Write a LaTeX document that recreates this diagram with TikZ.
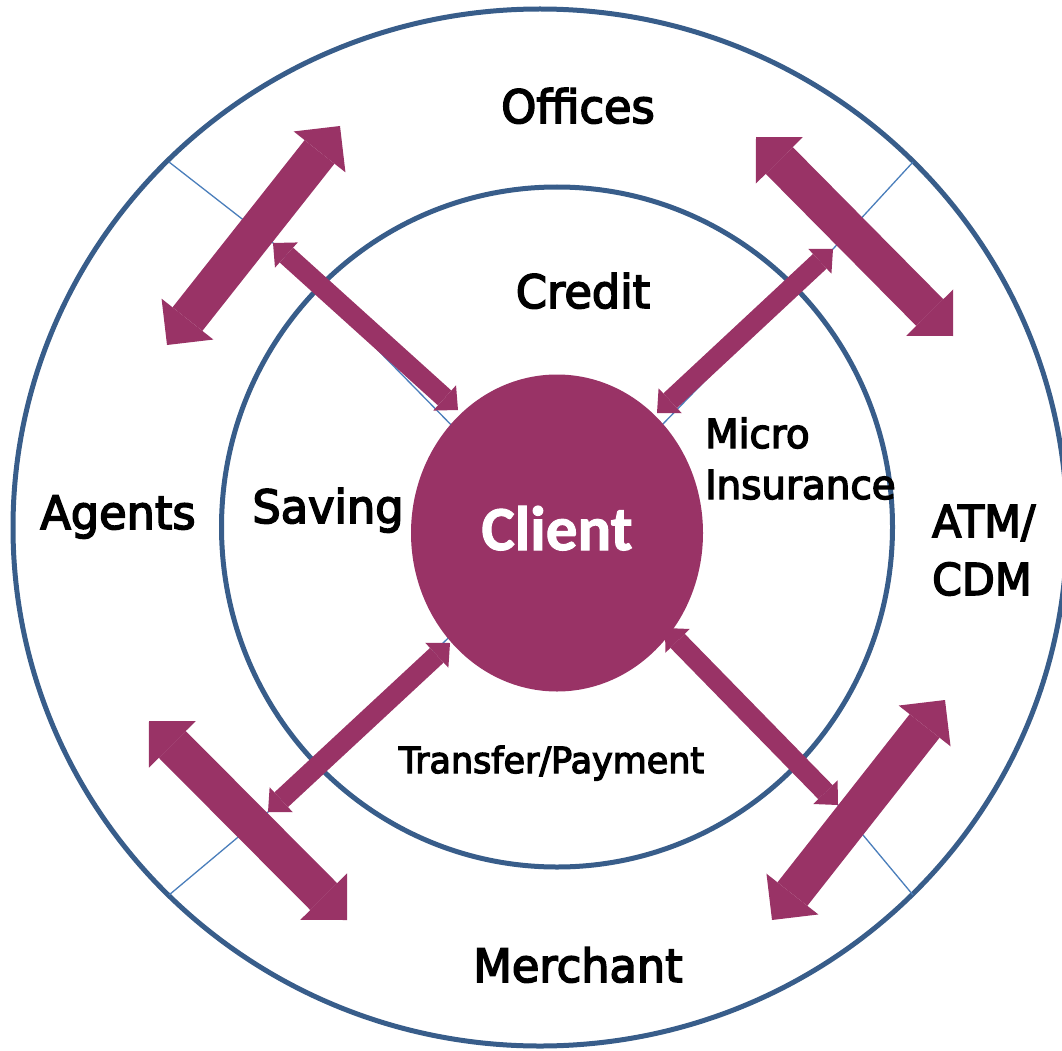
\documentclass[tikz,border=0pt]{standalone}
\usepackage{fontspec}
\setmainfont[FakeStretch=0.97,FakeBold=3.5]{DejaVu Sans}
\newfontfamily\clientfont[BoldFeatures={FakeBold=1.5}]{Carlito}
\usepackage{tikz}
\usetikzlibrary{arrows.meta,positioning,shapes.geometric,calc}
\definecolor{plum}{HTML}{993366}
\definecolor{ringblue}{HTML}{385D8A}
\definecolor{guideblue}{HTML}{4A7EBB}

\begin{document}
\begin{tikzpicture}[
    x=1pt, y=-1pt,
    ring/.style={draw=ringblue, ellipse, line width=5pt, inner sep=0pt},
    guide/.style={draw=guideblue, line width=1.3pt},
    lbl/.style={inner sep=0pt, anchor=base, font=\fontsize{46}{55}\selectfont},
    bigarr/.style={plum, line width=38pt,
      {Triangle[length=33pt,width=66pt,line width=0pt]}-{Triangle[length=33pt,width=66pt,line width=0pt]}},
    smallarr/.style={plum, line width=20pt,
      {Triangle[length=18pt,width=34pt,line width=0pt]}-{Triangle[length=18pt,width=34pt,line width=0pt]}}
  ]
    \useasboundingbox (0,0) rectangle (1062,1051);

    \node[ring, minimum width=1054pt, minimum height=1037pt] (outer) at (540,527.5) {};
    \node[ring, minimum width=671pt, minimum height=680pt] (inner) at (557,527) {};

    \coordinate (cc) at (557,533);
    \coordinate (nwring) at (169,162);
    \coordinate (nering) at (913,162);
    \coordinate (swring) at (169,895);
    \coordinate (sering) at (913,895);

    \coordinate (nwin) at (458,410);  \coordinate (nwout) at (273,243);
    \coordinate (nein) at (657,413);  \coordinate (neout) at (833,249);
    \coordinate (swin) at (450,643);  \coordinate (swout) at (268,812);
    \coordinate (sein) at (665,628);  \coordinate (seout) at (838,805);

    \draw[guide] (nwring) -- (nwout) -- (cc);
    \draw[guide] (nering) -- (neout) -- (cc);
    \draw[guide] (swring) -- (swout) -- (cc);
    \draw[guide] (sering) -- (seout) -- (cc);

    \node[ellipse, fill=plum, minimum width=292pt, minimum height=317pt, inner sep=0pt,
      text=white, text depth=10pt, font=\clientfont\bfseries\fontsize{63}{70}\selectfont] (client) at (cc) {Client};

    \coordinate (nwA) at (167,345);  \coordinate (nwB) at (340,126);
    \coordinate (neA) at (756,137);  \coordinate (neB) at (953,336);
    \coordinate (swA) at (149,721);  \coordinate (swB) at (347,920);
    \coordinate (seA) at (772,920);  \coordinate (seB) at (945,700);

    \draw[bigarr] (nwA) -- (nwB);
    \draw[bigarr] (neA) -- (neB);
    \draw[bigarr] (swA) -- (swB);
    \draw[bigarr] (seA) -- (seB);

    \draw[smallarr] (nwin) -- (nwout);
    \draw[smallarr] (nein) -- (neout);
    \draw[smallarr] (swin) -- (swout);
    \draw[smallarr] (sein) -- (seout);

    \node[lbl] (offices) at (578,123) {Offices};
    \node[lbl] (credit) at (583,308) {Credit};
    \node[lbl] (saving) at (328,523) {Saving};
    \node[lbl] (agents) at (118,529) {Agents};
    \node[lbl] (merchant) at (578,982) {Merchant};
    \node[lbl, font=\fontsize{36}{42}\selectfont] (transfer) at (551.5,773) {Transfer/Payment};
    \node[lbl, anchor=base west, align=left, font=\fontsize{40}{51}\selectfont] (insurance) at (705,499) {Micro\\Insurance};
    \node[lbl, anchor=base west, align=left, font=\fontsize{44}{58}\selectfont] (atm) at (932,595) {ATM/\\CDM};
\end{tikzpicture}
\end{document}
